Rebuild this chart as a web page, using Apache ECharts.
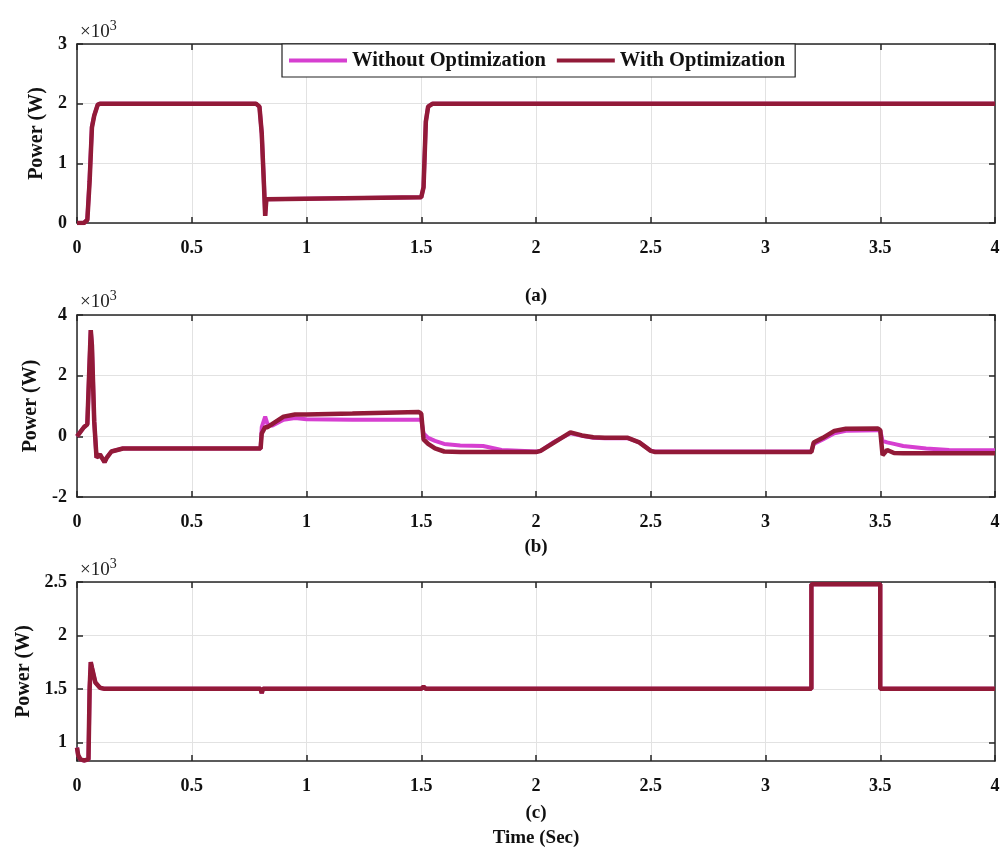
<!DOCTYPE html>
<html>
<head>
<meta charset="utf-8">
<script src="https://cdn.jsdelivr.net/npm/echarts@6/dist/echarts.min.js"></script>
<style>
html,body{margin:0;padding:0;background:#fff;}
#chart{width:1005px;height:852px;}
</style>
</head>
<body>
<div id="chart"></div>
<script>
// ---------- DATA ----------
const seriesNames = ['Without Optimization', 'With Optimization'];
const xTicks = [0, 0.5, 1, 1.5, 2, 2.5, 3, 3.5, 4];

// Panel (a)
const tA = [0, 0.03, 0.045, 0.055, 0.065, 0.075, 0.09, 0.1, 0.78, 0.795, 0.805, 0.815, 0.82, 0.825, 0.83, 1.5, 1.51, 1.52, 1.53, 1.55, 4];
const withoutA = [0, 0, 60, 750, 1620, 1800, 1980, 2000, 2000, 1950, 1500, 620, 130, 400, 420, 430, 600, 1700, 1950, 2000, 2000];
const withA =    [0, 0, 50, 700, 1600, 1800, 1980, 2000, 2000, 1950, 1500, 600, 120, 400, 420, 430, 600, 1700, 1950, 2000, 2000];

// Panel (b)
const tB = [0, 0.01, 0.03, 0.045, 0.055, 0.06, 0.065, 0.075, 0.085, 0.1, 0.12, 0.13, 0.15, 0.2, 0.8, 0.805, 0.82, 0.83, 0.85, 0.9, 0.95, 1.0, 1.2, 1.49, 1.5, 1.51, 1.53, 1.56, 1.6, 1.67, 1.77, 1.85, 2.0, 2.02, 2.08, 2.15, 2.2, 2.25, 2.3, 2.4, 2.45, 2.5, 2.52, 3.2, 3.21, 3.25, 3.3, 3.35, 3.49, 3.5, 3.51, 3.53, 3.56, 3.6, 3.7, 3.8, 4];
const withoutB = [0, 100, 300, 400, 2500, 3500, 3000, 500, -700, -600, -850, -700, -500, -400, -400, 300, 650, 400, 350, 550, 600, 560, 550, 550, 550, 100, -50, -150, -250, -300, -320, -450, -500, -480, -180, 100, 20, -50, -60, -60, -200, -470, -500, -500, -250, -100, 100, 180, 200, 200, -150, -200, -250, -320, -400, -450, -460];
const withB =    [0, 100, 300, 400, 2500, 3500, 3000, 500, -700, -600, -850, -700, -500, -400, -400, 100, 300, 300, 400, 650, 720, 720, 750, 800, 750, -100, -250, -400, -500, -520, -520, -520, -520, -480, -200, 130, 30, -30, -50, -50, -200, -480, -520, -520, -200, -50, 180, 250, 260, 200, -620, -450, -550, -560, -560, -560, -560];

// Panel (c)
const tC = [0, 0.005, 0.015, 0.03, 0.05, 0.055, 0.06, 0.065, 0.08, 0.1, 0.12, 0.8, 0.805, 0.81, 1.5, 1.51, 1.52, 3.2, 3.2, 3.5, 3.5, 4];
const withoutC = [950, 880, 840, 830, 840, 1500, 1750, 1700, 1560, 1510, 1500, 1500, 1460, 1500, 1500, 1520, 1500, 1500, 2480, 2480, 1500, 1500];
const withC =    [950, 880, 840, 830, 840, 1500, 1750, 1700, 1560, 1510, 1500, 1500, 1460, 1500, 1500, 1520, 1500, 1500, 2480, 2480, 1500, 1500];

// y ranges / ticks
const yA = {min: 0, max: 3000, ticks: [0, 1000, 2000, 3000]};
const yB = {min: -2000, max: 4000, ticks: [-2000, 0, 2000, 4000]};
const yC = {min: 825, max: 2500, ticks: [1000, 1500, 2000, 2500]};

// ---------- STYLE ----------
const FONT = 'Liberation Serif';
const colWithout = '#d63fd0';
const colWith = '#921a38';
const axisColor = '#262626';
const TICKFS = 18;

const grids = [
  {left: 77, top: 44, width: 918, height: 179},
  {left: 77, top: 315, width: 918, height: 182},
  {left: 77, top: 582, width: 918, height: 179}
];
const yDefs = [yA, yB, yC];

function fmtY(v) {
  const s = v / 1000;
  return String(Math.round(s * 10) / 10);
}

const xAxes = [], yAxes = [];
grids.forEach((g, i) => {
  xAxes.push({
    type: 'value', gridIndex: i, min: 0, max: 4, interval: 0.5, position: 'bottom',
    axisLine: {show: true, onZero: false, lineStyle: {color: axisColor, width: 1.5}},
    axisTick: {show: true, inside: true, length: 6, lineStyle: {color: axisColor, width: 1.5}},
    axisLabel: {show: true, margin: 16, color: '#111', fontFamily: FONT, fontWeight: 'bold', fontSize: TICKFS,
      formatter: v => String(v)},
    splitLine: {show: true, lineStyle: {color: '#e2e2e2', width: 1}}
  });
  xAxes.push({
    type: 'value', gridIndex: i, min: 0, max: 4, interval: 0.5, position: 'top',
    axisLine: {show: true, onZero: false, lineStyle: {color: axisColor, width: 1.5}},
    axisTick: {show: true, inside: true, length: 6, lineStyle: {color: axisColor, width: 1.5}},
    axisLabel: {show: false}, splitLine: {show: false}
  });
  const yd = yDefs[i];
  yAxes.push({
    type: 'value', gridIndex: i, min: yd.min, max: yd.max, position: 'left',
    name: 'Power (W)', nameLocation: 'middle', nameGap: 26, nameRotate: 90,
    nameTextStyle: {fontFamily: FONT, fontWeight: 'bold', fontSize: 20, color: '#111'},
    axisLine: {show: true, onZero: false, lineStyle: {color: axisColor, width: 1.5}},
    axisTick: {show: true, inside: true, length: 6, customValues: yd.ticks, lineStyle: {color: axisColor, width: 1.5}},
    axisLabel: {show: true, margin: 10, customValues: yd.ticks, color: '#111', fontFamily: FONT, fontWeight: 'bold', fontSize: TICKFS, formatter: fmtY},
    splitLine: {show: true, lineStyle: {color: '#e2e2e2', width: 1}}
  });
  yAxes.push({
    type: 'value', gridIndex: i, min: yd.min, max: yd.max, position: 'right',
    axisLine: {show: true, onZero: false, lineStyle: {color: axisColor, width: 1.5}},
    axisTick: {show: true, inside: true, length: 6, customValues: yd.ticks, lineStyle: {color: axisColor, width: 1.5}},
    axisLabel: {show: false}, splitLine: {show: false}
  });
});

function pairs(t, v) { return t.map((x, k) => [x, v[k]]); }

const panelData = [[tA, withoutA, withA], [tB, withoutB, withB], [tC, withoutC, withC]];
const series = [];
panelData.forEach((p, i) => {
  series.push({
    name: seriesNames[0], type: 'line', xAxisIndex: 2 * i, yAxisIndex: 2 * i,
    data: pairs(p[0], p[1]), showSymbol: false, symbol: 'none', animation: false,
    lineStyle: {color: colWithout, width: 4}, itemStyle: {color: colWithout}, z: 2
  });
  series.push({
    name: seriesNames[1], type: 'line', xAxisIndex: 2 * i, yAxisIndex: 2 * i,
    data: pairs(p[0], p[2]), showSymbol: false, symbol: 'none', animation: false,
    lineStyle: {color: colWith, width: 4.5}, itemStyle: {color: colWith}, z: 3
  });
});

function expText(y) {
  return {
    type: 'text', x: 80, y: y,
    style: {text: '{a|×10}{b|3}', verticalAlign: 'middle', rich: {
      a: {fontFamily: FONT, fontSize: 19, fill: '#222'},
      b: {fontFamily: FONT, fontSize: 14, fill: '#222', padding: [0, 0, 12, 0]}
    }}
  };
}
function capText(txt, y) {
  return {
    type: 'text', x: 536, y: y,
    style: {text: txt, fontFamily: FONT, fontWeight: 'bold', fontSize: 19, fill: '#111', align: 'center', verticalAlign: 'middle'}
  };
}

const option = {
  backgroundColor: '#fff',
  animation: false,
  grid: grids.map(g => Object.assign({containLabel: false}, g)),
  xAxis: xAxes,
  yAxis: yAxes,
  legend: {
    data: seriesNames, left: 282, top: 44, orient: 'horizontal',
    backgroundColor: '#fff', borderColor: '#222', borderWidth: 1.2, borderRadius: 0,
    padding: [6, 10, 6, 7], itemGap: 11, itemWidth: 58, itemHeight: 4, icon: 'rect',
    textStyle: {fontFamily: FONT, fontWeight: 'bold', fontSize: 20.5, color: '#111'}
  },
  graphic: [
    expText(32), expText(302), expText(570),
    capText('(a)', 296), capText('(b)', 547), capText('(c)', 813), capText('Time (Sec)', 838)
  ],
  series: series
};

const chart = echarts.init(document.getElementById('chart'), null, {renderer: 'canvas'});
chart.setOption(option);
</script>
</body>
</html>
